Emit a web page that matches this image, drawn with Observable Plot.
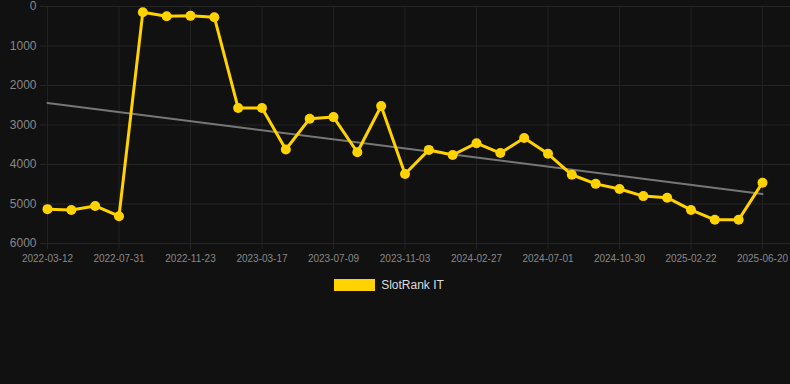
<!DOCTYPE html>
<html>
<head>
<meta charset="utf-8">
<script src="https://cdn.jsdelivr.net/npm/d3@7"></script>
<script src="https://cdn.jsdelivr.net/npm/@observablehq/plot@0.6"></script>
<style>
  html, body { margin: 0; padding: 0; background: #111111; width: 790px; height: 384px; overflow: hidden; }
  #chart svg { display: block; }
  .legend { display: flex; justify-content: center; align-items: center; gap: 6px; margin-top: 13px; padding-right: 12px;
            font-family: Arial, "Liberation Sans", sans-serif; font-size: 12px; color: #dddddd; }
  .legend .sw { width: 41px; height: 12px; background: #FFD200; }
</style>
</head>
<body>
<div id="chart"></div>
<div class="legend"><span class="sw"></span><span>SlotRank IT</span></div>
<script>
const dates = [
  "2022-03-12","2022-04-28","2022-06-14","2022-07-31","2022-09-08","2022-10-16",
  "2022-11-23","2023-01-01","2023-02-07","2023-03-17","2023-04-25","2023-06-01",
  "2023-07-09","2023-08-17","2023-09-25","2023-11-03","2023-12-12","2024-01-19",
  "2024-02-27","2024-04-07","2024-05-23","2024-07-01","2024-08-10","2024-09-20",
  "2024-10-30","2024-12-08","2025-01-15","2025-02-22","2025-04-02","2025-05-11",
  "2025-06-20"
];
const ranks = [
  5130, 5150, 5050, 5310, 144, 245,
  237, 270, 2570, 2570, 3620, 2840,
  2800, 3690, 2520, 4240, 3630, 3760,
  3460, 3710, 3330, 3730, 4260, 4490,
  4620, 4800, 4840, 5150, 5400, 5400,
  4460
];
const xTickLabels = [
  "2022-03-12","2022-07-31","2022-11-23","2023-03-17","2023-07-09","2023-11-03",
  "2024-02-27","2024-07-01","2024-10-30","2025-02-22","2025-06-20"
];
const yTicks = [0, 1000, 2000, 3000, 4000, 5000, 6000];
const seriesName = "SlotRank IT";

const data = dates.map((d, i) => ({date: d, rank: ranks[i], i}));
const xTickIdx = xTickLabels.map(l => dates.indexOf(l));

// least-squares trend over point index
const n = ranks.length;
const mx = d3.mean(data, d => d.i), my = d3.mean(ranks);
const slope = d3.sum(data, d => (d.i - mx) * (d.rank - my)) / d3.sum(data, d => (d.i - mx) ** 2);
const intercept = my - slope * mx;
const trend = [
  {i: 0, rank: intercept},
  {i: n - 1, rank: intercept + slope * (n - 1)}
];

const chart = Plot.plot({
  width: 790,
  height: 265,
  marginLeft: 40,
  marginRight: 0,
  marginTop: 6,
  marginBottom: 22,
  style: {background: "#111111", color: "#888888", fontFamily: "Arial, 'Liberation Sans', sans-serif", overflow: "visible"},
  x: {type: "linear", domain: [0, n - 1], range: [47, 762]},
  y: {domain: [0, 6000], reverse: true},
  marks: [
    Plot.gridY({ticks: yTicks, stroke: "#252525", strokeOpacity: 1}),
    Plot.gridX({ticks: xTickIdx, stroke: "#222222", strokeOpacity: 1}),
    Plot.axisY({ticks: yTicks, tickSize: 0, tickPadding: 4, fontSize: 12, fill: "#888888", label: null, tickFormat: d => String(d)}),
    Plot.axisX({ticks: xTickIdx, tickFormat: i => dates[i], tickSize: 6, tickPadding: 5, stroke: "#252525", fontSize: 10, fill: "#888888", label: null}),
    Plot.line(trend, {x: "i", y: "rank", stroke: "#777777", strokeWidth: 2}),
    Plot.line(data, {x: "i", y: "rank", stroke: "#FFD200", strokeWidth: 3}),
    Plot.dot(data, {x: "i", y: "rank", r: 5, fill: "#FFD200", stroke: "none"})
  ]
});
document.getElementById("chart").appendChild(chart);
</script>
</body>
</html>
